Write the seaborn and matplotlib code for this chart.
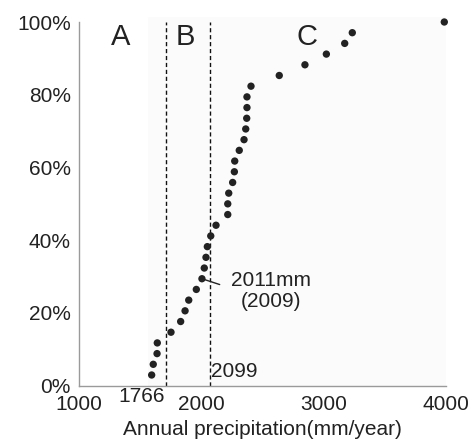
import matplotlib
matplotlib.use("Agg")
import matplotlib.pyplot as plt
from matplotlib.patches import Rectangle
from matplotlib.ticker import PercentFormatter
import numpy as np
import pandas as pd
import seaborn as sns

# annual precipitation (mm/year), sorted ascending
precip = [1594, 1607, 1638, 1640, 1752, 1831, 1867, 1897, 1959, 2005,
          2024, 2038, 2049, 2077, 2120, 2216, 2216, 2224, 2256, 2270,
          2273, 2310, 2349, 2363, 2371, 2373, 2373, 2406, 2637, 2847,
          3022, 3172, 3234, 3986]
# cumulative probability (rank / n)
rank = list(range(1, len(precip) + 1))
x_ticks = [1000, 2000, 3000, 4000]
y_ticks = [0, 0.2, 0.4, 0.6, 0.8, 1.0]
zone_lines = [1710, 2070]
zone_labels = ["1766", "2099"]
zone_names = ["A", "B", "C"]
zone_name_x = [1340, 1870, 2860]

df = pd.DataFrame({"precip": precip, "cum": np.array(rank) / len(precip)})

sns.set_theme(style="white")
plt.rcParams["font.family"] = ["Liberation Sans", "DejaVu Sans"]

fig = plt.figure(figsize=(4.75, 4.48), dpi=100)
ax = fig.add_axes([79 / 475, (448 - 385.7) / 448, (446 - 79) / 475, (385.7 - 22) / 448])

# faint shaded panel behind the data
ax.add_patch(Rectangle((1565, 0), 2435, 1.014, facecolor="#fbfbfb",
                       edgecolor="none", zorder=0, clip_on=False))

sns.scatterplot(data=df, x="precip", y="cum", ax=ax, color="#222222",
                s=28, edgecolor="none", zorder=3, clip_on=False)

for xv in zone_lines:
    ax.axvline(xv, color="#111111", lw=1.0, ls=(0, (3, 2)), zorder=2)

ax.set_xlim(1000, 4000)
ax.set_ylim(0, 1)
ax.set_xticks(x_ticks)
ax.set_yticks(y_ticks)
ax.yaxis.set_major_formatter(PercentFormatter(1.0, decimals=0))

for side in ["top", "right"]:
    ax.spines[side].set_visible(False)
for side in ["left", "bottom"]:
    ax.spines[side].set_color("#9a9a9a")
    ax.spines[side].set_linewidth(1.0)
ax.tick_params(axis="both", which="major", direction="out", length=5, width=1,
               color="#9a9a9a", labelsize=15, labelcolor="#222222", pad=1)
ax.tick_params(axis="x", pad=2)

ax.set_xlabel("Annual precipitation(mm/year)", fontsize=15, color="#222222", labelpad=4)
ax.set_ylabel("")

# zone letters
for name, xv in zip(zone_names, zone_name_x):
    ax.text(xv, 0.96, name, fontsize=21, color="#222222", ha="center", va="center")

# threshold labels
ax.text(1710 - 8, -0.03, zone_labels[0], fontsize=15, color="#222222",
        ha="right", va="center", clip_on=False)
ax.text(2070 + 8, 0.04, zone_labels[1], fontsize=15, color="#222222",
        ha="left", va="center")

# annotation for the 2009 value
ax.annotate("2011mm\n(2009)", xy=(df.precip[9], df.cum[9]),
            xytext=(2570, 0.26), fontsize=15, color="#222222",
            ha="center", va="center", linespacing=1.1)
ax.plot([df.precip[9], 2150], [df.cum[9], df.cum[9] - 0.016],
        color="#222222", lw=1, zorder=2)

fig.savefig("out.png", dpi=100)
